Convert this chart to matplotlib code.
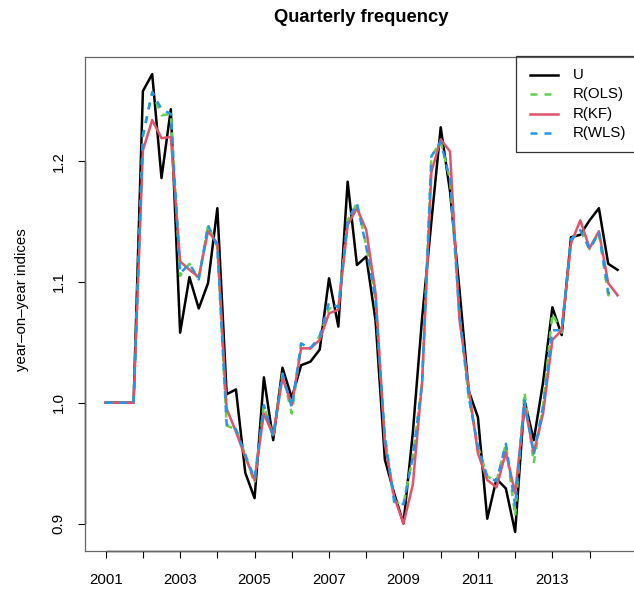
import numpy as np
import matplotlib
matplotlib.use("Agg")
import matplotlib.pyplot as plt
from matplotlib.lines import Line2D
from matplotlib.patches import Rectangle

plt.rcParams['font.family'] = ['Liberation Sans', 'DejaVu Sans']

# quarterly time index 2001Q1 .. 2014Q4
quarters = np.arange(2001, 2015, 0.25)

U = [1.000, 1.000, 1.000, 1.000, 1.258, 1.272, 1.186, 1.243, 1.058, 1.104,
     1.078, 1.099, 1.161, 1.007, 1.011, 0.942, 0.921, 1.021, 0.969, 1.029,
     1.004, 1.031, 1.034, 1.044, 1.103, 1.063, 1.183, 1.114, 1.121, 1.068,
     0.953, 0.925, 0.900, 0.975, 1.070, 1.150, 1.228, 1.175, 1.095, 1.010,
     0.988, 0.904, 0.937, 0.929, 0.893, 1.002, 0.969, 1.017, 1.079, 1.056,
     1.137, 1.139, 1.151, 1.161, 1.115, 1.110]

R_OLS = [1.000, 1.000, 1.000, 1.000, 1.220, 1.257, 1.238, 1.239, 1.105, 1.115,
         1.102, 1.147, 1.129, 0.981, 0.978, 0.957, 0.933, 0.998, 0.972, 1.024,
         0.991, 1.049, 1.045, 1.055, 1.078, 1.079, 1.151, 1.165, 1.130, 1.085,
         0.972, 0.918, 0.916, 0.955, 1.016, 1.204, 1.216, 1.185, 1.075, 1.005,
         0.964, 0.939, 0.935, 0.966, 0.906, 1.009, 0.950, 0.997, 1.074, 1.058,
         1.135, 1.143, 1.127, 1.141, 1.089, 1.089]

R_KF = [1.000, 1.000, 1.000, 1.000, 1.209, 1.234, 1.219, 1.220, 1.117, 1.110,
        1.104, 1.142, 1.132, 0.995, 0.976, 0.955, 0.936, 0.991, 0.973, 1.021,
        0.998, 1.045, 1.045, 1.052, 1.074, 1.077, 1.147, 1.161, 1.143, 1.091,
        0.966, 0.922, 0.900, 0.932, 1.017, 1.191, 1.218, 1.208, 1.070, 1.013,
        0.958, 0.936, 0.930, 0.959, 0.925, 0.998, 0.959, 0.991, 1.052, 1.060,
        1.132, 1.151, 1.128, 1.142, 1.099, 1.089]

R_WLS = [1.000, 1.000, 1.000, 1.000, 1.222, 1.257, 1.243, 1.239, 1.107, 1.115,
         1.102, 1.147, 1.129, 0.982, 0.978, 0.957, 0.937, 0.998, 0.972, 1.024,
         0.996, 1.049, 1.045, 1.055, 1.083, 1.079, 1.151, 1.165, 1.129, 1.085,
         0.972, 0.918, 0.916, 0.955, 1.016, 1.204, 1.216, 1.185, 1.075, 1.005,
         0.964, 0.939, 0.935, 0.966, 0.915, 1.002, 0.957, 0.997, 1.060, 1.060,
         1.135, 1.143, 1.127, 1.141, 1.091, 1.089]

series_names = ['U', 'R(OLS)', 'R(KF)', 'R(WLS)']
colors = ['black', '#61D04F', '#DF536B', '#2297E6']
year_ticks = list(range(2001, 2015))
y_ticks = [0.9, 1.0, 1.1, 1.2]

W, H = 634, 591
fig = plt.figure(figsize=(W / 100, H / 100), dpi=100)
# plot region in pixels: left 85, right 638 (runs past the edge), top 57, bottom 551
ax = fig.add_axes([85.2 / W, (H - 550.7) / H, (638 - 85.2) / W, (550.7 - 57) / H])

lw = 1.8
ax.plot(quarters, U, color=colors[0], lw=lw)
ax.plot(quarters, R_OLS, color=colors[1], lw=lw, dashes=(2.8, 2.8))
ax.plot(quarters, R_KF, color=colors[2], lw=lw)
ax.plot(quarters, R_WLS, color=colors[3], lw=lw, dashes=(2.8, 2.8))

ax.set_xlim(2000.45, 2015.30)
ax.set_ylim(0.8775, 1.2862)

ax.set_xticks(year_ticks)
ax.set_xticklabels([str(y) if y % 2 == 1 else '' for y in year_ticks])
ax.set_yticks(y_ticks)
ax.set_yticklabels(['%.1f' % v for v in y_ticks], rotation=90, va='center')
ax.tick_params(axis='both', direction='out', length=5, width=0.8,
               labelsize=10.8)
ax.tick_params(axis='x', pad=11)
ax.tick_params(axis='y', pad=9)

for s in ax.spines.values():
    s.set_color('#666666')
    s.set_linewidth(0.9)

# darker axis lines between first and last tick, like R's axis()
ax.plot([year_ticks[0], year_ticks[-1]], [0.8775, 0.8775], color='black',
        lw=1.0, clip_on=False, solid_capstyle='butt')
ax.plot([2000.45, 2000.45], [y_ticks[0], y_ticks[-1]], color='black',
        lw=1.0, clip_on=False, solid_capstyle='butt')

fig.text(22 / W, 1 - 300 / H, 'year\u2013on\u2013year indices', rotation=90,
         ha='center', va='center', fontsize=10.8)
fig.text(361.6 / W, 1 - 18 / H, 'Quarterly frequency', ha='center',
         va='center', fontsize=13.2, fontweight='bold')

# legend box, top right
def fx(px):
    return px / W

def fy(py):
    return 1 - py / H

fig.add_artist(Rectangle((fx(516), fy(151.7)), fx(640) - fx(516),
                         fy(56.5) - fy(151.7), transform=fig.transFigure,
                         fill=False, edgecolor='#333333', lw=0.9))
rows = [75, 94.3, 113.6, 133]
for name, col, row in zip(series_names, colors, rows):
    if name in ('R(OLS)', 'R(WLS)'):
        ln = Line2D([fx(530), fx(558)], [fy(row), fy(row)], color=col, lw=lw,
                    dashes=(2.8, 2.8), transform=fig.transFigure)
    else:
        ln = Line2D([fx(530), fx(558)], [fy(row), fy(row)], color=col, lw=lw,
                    transform=fig.transFigure)
    fig.add_artist(ln)
    fig.text(fx(573), fy(row), name, ha='left', va='center', fontsize=10.8)

fig.savefig('out.png', dpi=100)
